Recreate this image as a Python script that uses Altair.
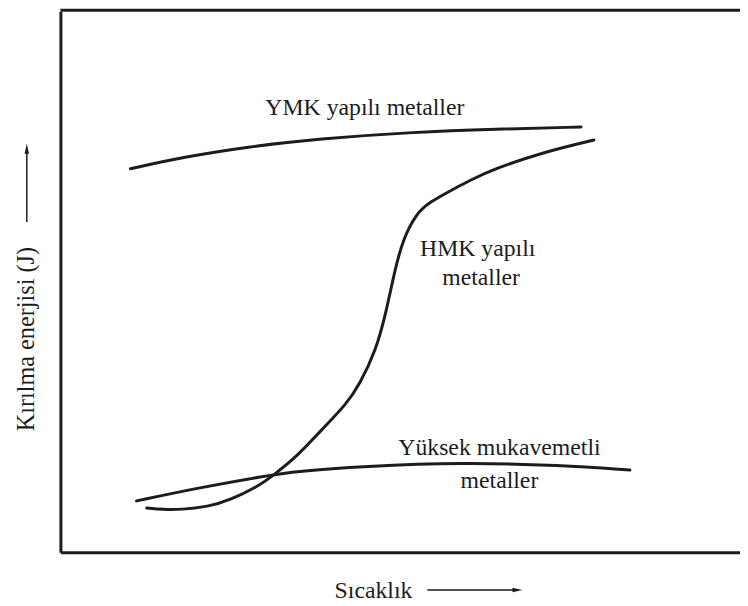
import altair as alt
import pandas as pd

# --- data (x: Sıcaklık 0-100, y: Kırılma enerjisi 0-100) ---
ymk_x = [10.3, 18.3, 27.9, 37.7, 52.3, 63.9, 76.6]
ymk_y = [70.9, 73.1, 75.0, 76.4, 77.7, 78.2, 78.6]

hmk_x = [12.7, 15.1, 17.8, 21.7, 25.0, 29.0, 31.4, 34.8, 38.4, 42.1, 44.0, 46.4,
         47.9, 49.3, 50.5, 52.3, 54.1, 58.1, 60.0, 63.9, 71.2, 78.5]
hmk_y = [8.2, 7.9, 7.9, 8.4, 9.7, 12.1, 14.3, 17.7, 22.6, 27.4, 31.0, 37.2,
         44.2, 52.7, 58.1, 62.4, 64.6, 67.3, 68.6, 70.9, 74.0, 76.2]

yuk_x = [11.2, 20.2, 30.0, 34.8, 44.5, 59.1, 73.7, 83.8]
yuk_y = [9.5, 11.9, 14.1, 15.0, 15.9, 16.6, 16.1, 15.2]

label_text = ["YMK yapılı metaller", "HMK yapılı", "metaller", "Yüksek mukavemetli", "metaller"]
label_x = [44.8, 61.4, 61.9, 64.6, 64.6]
label_y = [80.8, 54.8, 49.4, 17.9, 11.9]

x_title = "Sıcaklık"
y_title = "Kırılma enerjisi (J)"

INK = "#1c1c1c"
FONT = "Liberation Serif, Times New Roman, serif"
W, H = 687, 547

rows = []
for name, xs, ys in [("YMK", ymk_x, ymk_y), ("HMK", hmk_x, hmk_y), ("Yuksek", yuk_x, yuk_y)]:
    for i, (a, b) in enumerate(zip(xs, ys)):
        rows.append({"seri": name, "x": a, "y": b, "i": i})
df = pd.DataFrame(rows)
lab = pd.DataFrame({"t": label_text, "x": label_x, "y": label_y})
one = pd.DataFrame({"v": [0]})

xs = alt.Scale(domain=[0, 100], nice=False, zero=False)
ys = alt.Scale(domain=[0, 100], nice=False, zero=False)

xaxis = alt.Axis(labels=False, ticks=False, grid=False, domain=True, domainColor=INK,
                 domainWidth=3, title=x_title, titleFont=FONT, titleFontSize=24,
                 titleFontWeight="normal", titleColor=INK, titleX=316, titleY=46,
                 titleAlign="center", titleBaseline="alphabetic")
yaxis = alt.Axis(labels=False, ticks=False, grid=False, domain=True, domainColor=INK,
                 domainWidth=3, title=y_title, titleFont=FONT, titleFontSize=24.5,
                 titleFontWeight="normal", titleColor=INK, titleX=-34, titleY=331,
                 titleAngle=270, titleAlign="center", titleBaseline="middle")

lines = alt.Chart(df).mark_line(interpolate="basis", strokeWidth=3, color=INK,
                                strokeCap="round").encode(
    x=alt.X("x:Q", scale=xs, axis=xaxis),
    y=alt.Y("y:Q", scale=ys, axis=yaxis),
    detail="seri:N",
    order="i:Q",
)

labels = alt.Chart(lab).mark_text(font=FONT, fontSize=24, color=INK, align="center",
                                  baseline="alphabetic").encode(
    x=alt.X("x:Q", scale=xs), y=alt.Y("y:Q", scale=ys), text="t:N")

top = alt.Chart(one).mark_rule(color=INK, strokeWidth=3).encode(
    x=alt.value(0), x2=alt.value(W), y=alt.value(-1))

# axis-title arrows
x_arrow = alt.Chart(one).mark_rule(color=INK, strokeWidth=1.5).encode(
    x=alt.value(371), x2=alt.value(460), y=alt.value(585))
x_head = alt.Chart(one).mark_point(shape="M1,0L-1,-0.45L-1,0.45Z", size=100, filled=True,
                                   color=INK, opacity=1).encode(
    x=alt.value(462), y=alt.value(585))
y_arrow = alt.Chart(one).mark_rule(color=INK, strokeWidth=1.5).encode(
    x=alt.value(-34), y=alt.value(213), y2=alt.value(141))
y_head = alt.Chart(one).mark_point(shape="M0,-1L0.45,1L-0.45,1Z", size=100, filled=True,
                                   color=INK, opacity=1).encode(
    x=alt.value(-34), y=alt.value(139))

chart = alt.layer(lines, labels, top, x_arrow, x_head, y_arrow, y_head).properties(
    width=W, height=H,
    autosize=alt.AutoSizeParams(type="none"),
    padding={"left": 53, "top": 0, "right": 0, "bottom": 51},
    background="white",
).configure_view(strokeWidth=0)

chart.save("out.html", embed_options={"renderer": "svg", "actions": False})
